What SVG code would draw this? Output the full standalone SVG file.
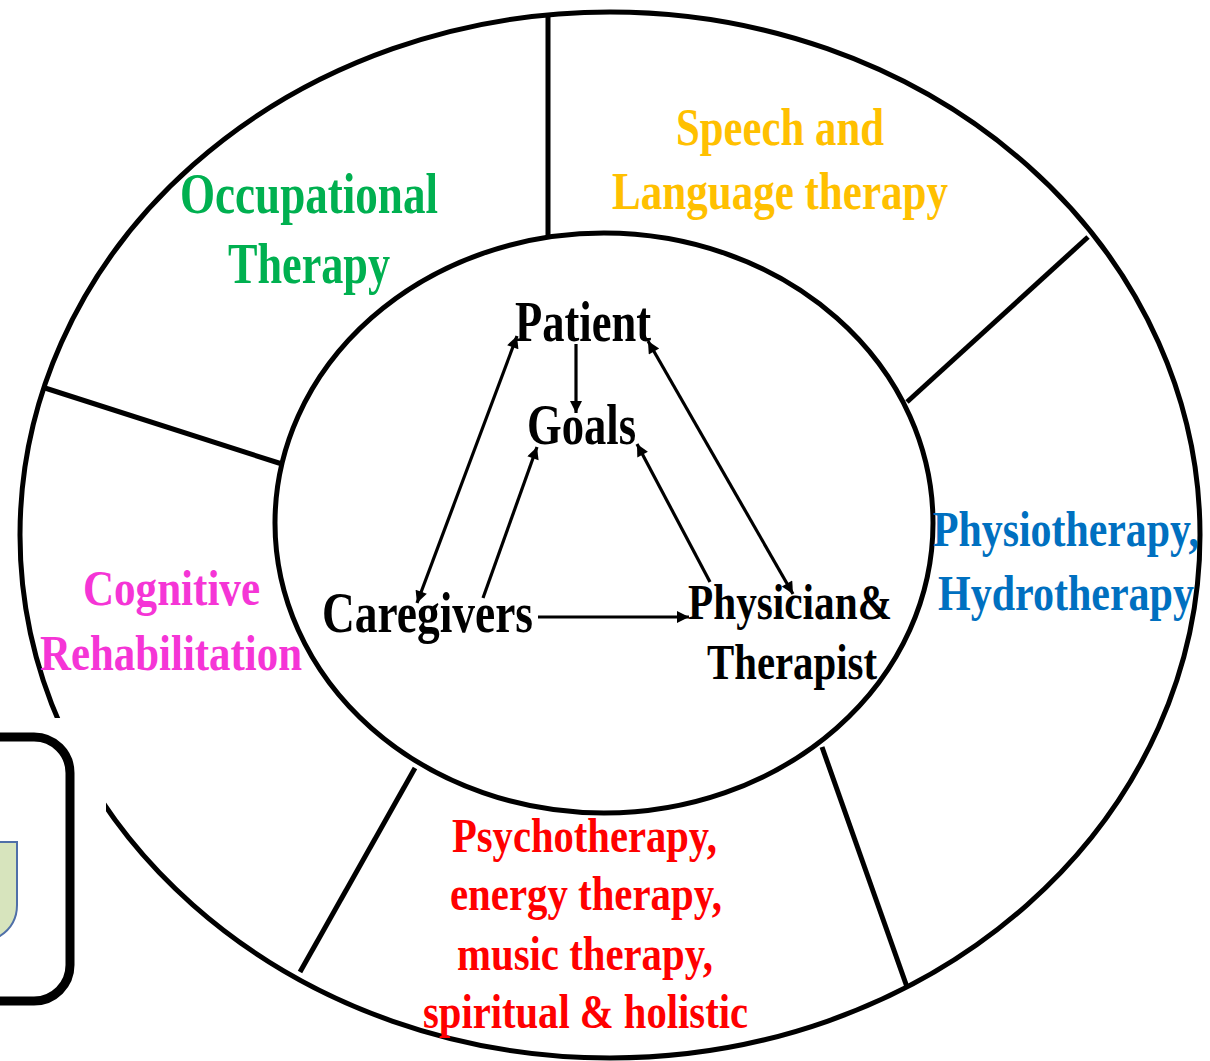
<svg xmlns="http://www.w3.org/2000/svg" width="1210" height="1061" viewBox="0 0 1210 1061">
<style>
.ring{fill:none;stroke:#000;stroke-width:5}
.div{stroke:#000;stroke-width:5;fill:none}
.arr{stroke:#000;stroke-width:3.2;fill:none}
text{font-family:"Liberation Serif","Times New Roman",serif;font-weight:bold}
.blk{fill:#000}
</style>
<defs>
<marker id="ah" viewBox="0 0 10 10" refX="10" refY="5" markerUnits="userSpaceOnUse" markerWidth="16" markerHeight="12" orient="auto-start-reverse">
<path d="M0,0 L10,5 L0,10 Z" fill="#000"/>
</marker>
</defs>
<rect width="1210" height="1061" fill="#fff"/>
<g id="rings">
<ellipse class="ring" cx="610" cy="535" rx="590" ry="523"/>
<ellipse class="ring" cx="604" cy="523" rx="329" ry="290"/>
</g>
<g id="dividers">
<line class="div" x1="548" y1="15" x2="548" y2="236"/>
<line class="div" x1="1088" y1="237" x2="907" y2="402"/>
<line class="div" x1="45" y1="388" x2="282" y2="464"/>
<line class="div" x1="415" y1="768" x2="300" y2="972"/>
<line class="div" x1="822" y1="747" x2="907" y2="987"/>
</g>
<g id="occupational">
<text x="180" y="213" font-size="58" fill="#00b050" textLength="258" lengthAdjust="spacingAndGlyphs">Occupational</text>
<text x="228" y="283" font-size="58" fill="#00b050" textLength="162" lengthAdjust="spacingAndGlyphs">Therapy</text>
</g>
<g id="speech">
<text x="676" y="145" font-size="52" fill="#ffc000" textLength="208" lengthAdjust="spacingAndGlyphs">Speech and</text>
<text x="612" y="209" font-size="52" fill="#ffc000" textLength="336" lengthAdjust="spacingAndGlyphs">Language therapy</text>
</g>
<g id="physio">
<text x="933" y="546" font-size="51" fill="#0070c0" textLength="266" lengthAdjust="spacingAndGlyphs">Physiotherapy,</text>
<text x="938" y="610" font-size="51" fill="#0070c0" textLength="256" lengthAdjust="spacingAndGlyphs">Hydrotherapy</text>
</g>
<g id="cognitive">
<text x="83" y="605" font-size="50" fill="#f535d6" textLength="177" lengthAdjust="spacingAndGlyphs">Cognitive</text>
<text x="40" y="670" font-size="50" fill="#f535d6" textLength="262" lengthAdjust="spacingAndGlyphs">Rehabilitation</text>
</g>
<g id="psycho">
<text x="452" y="852" font-size="48" fill="#ff0000" textLength="265" lengthAdjust="spacingAndGlyphs">Psychotherapy,</text>
<text x="450" y="910" font-size="48" fill="#ff0000" textLength="272" lengthAdjust="spacingAndGlyphs">energy therapy,</text>
<text x="457" y="970" font-size="48" fill="#ff0000" textLength="256" lengthAdjust="spacingAndGlyphs">music therapy,</text>
<text x="423" y="1028" font-size="48" fill="#ff0000" textLength="325" lengthAdjust="spacingAndGlyphs">spiritual &amp; holistic</text>
</g>
<g id="patient"><text class="blk" x="515" y="341" font-size="57" textLength="136" lengthAdjust="spacingAndGlyphs">Patient</text></g>
<g id="goals"><text class="blk" x="527" y="444" font-size="57" textLength="109" lengthAdjust="spacingAndGlyphs">Goals</text></g>
<g id="caregivers"><text class="blk" x="322" y="632" font-size="57" textLength="211" lengthAdjust="spacingAndGlyphs">Caregivers</text></g>
<g id="physician">
<text class="blk" x="688" y="619" font-size="51" textLength="204" lengthAdjust="spacingAndGlyphs">Physician&amp;</text>
<text class="blk" x="707" y="679" font-size="51" textLength="170" lengthAdjust="spacingAndGlyphs">Therapist</text>
</g>
<g id="connectors">
<line class="arr" x1="517" y1="336" x2="417" y2="603" marker-start="url(#ah)" marker-end="url(#ah)"/>
<line class="arr" x1="483" y1="598" x2="537" y2="447" marker-end="url(#ah)"/>
<line class="arr" x1="576" y1="344" x2="576" y2="413" marker-end="url(#ah)"/>
<line class="arr" x1="710" y1="582" x2="637" y2="444" marker-end="url(#ah)"/>
<line class="arr" x1="648" y1="341" x2="793" y2="594" marker-start="url(#ah)" marker-end="url(#ah)"/>
<line class="arr" x1="538" y1="617" x2="689" y2="617" stroke-width="4.5" marker-end="url(#ah)"/>
</g>
<g id="corner-box">
<rect x="0" y="718" width="106" height="343" fill="#fff"/>
<rect x="-60" y="737" width="130" height="264" rx="36" ry="36" fill="#fff" stroke="#000" stroke-width="9"/>
<path d="M-10,842 L17,842 L17,905 Q17,925 0,936 L-10,940 Z" fill="#d7e4bd" stroke="#4f6fa8" stroke-width="2"/>
</g>
</svg>
